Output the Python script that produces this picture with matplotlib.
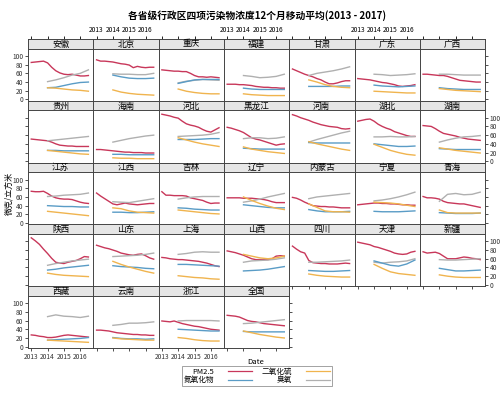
import matplotlib
matplotlib.use("Agg")
import matplotlib.pyplot as plt
from matplotlib.lines import Line2D

plt.rcParams['font.family'] = ['Noto Sans CJK SC', 'DejaVu Sans']

regions = ['安徽', '北京', '重庆', '福建', '甘肃', '广东', '广西',
           '贵州', '海南', '河北', '黑龙江', '河南', '湖北', '湖南',
           '江苏', '江西', '吉林', '辽宁', '内蒙古', '宁夏', '青海',
           '陕西', '山东', '上海', '山西', '四川', '天津', '新疆',
           '西藏', '云南', '浙江', '全国']

# PM2.5 from 2013, quarterly; other pollutants from 2014, half-yearly
pm_dates = [2013.0, 2013.25, 2013.5, 2013.75, 2014.0, 2014.25, 2014.5, 2014.75,
            2015.0, 2015.25, 2015.5, 2015.75, 2016.0, 2016.25, 2016.5]
other_dates = [2014.0, 2014.5, 2015.0, 2015.5, 2016.0, 2016.5]

pm25 = {
    '安徽': [85, 86, 87, 88, 84, 74, 66, 61, 58, 57, 58, 56, 54, 54, 55],
    '北京': [91, 88, 88, 87, 86, 84, 82, 81, 79, 73, 76, 74, 73, 74, 74],
    '重庆': [68, 67, 66, 65, 65, 64, 64, 60, 55, 52, 52, 51, 52, 51, 50],
    '福建': [35, 35, 35, 34, 34, 33, 32, 30, 29, 28, 28, 27, 27, 26, 26],
    '甘肃': [70, 66, 62, 58, 55, 52, 48, 45, 40, 36, 36, 38, 41, 43, 43],
    '广东': [48, 47, 46, 45, 43, 41, 39, 38, 36, 34, 31, 30, 31, 32, 34],
    '广西': [58, 58, 57, 56, 55, 55, 53, 50, 47, 44, 43, 42, 41, 40, 40],
    '贵州': [51, 50, 49, 48, 47, 44, 40, 37, 36, 35, 35, 34, 34, 34, 34],
    '海南': [27, 27, 26, 25, 24, 23, 22, 21, 21, 20, 20, 20, 19, 19, 19],
    '河北': [108, 106, 104, 101, 99, 92, 86, 83, 81, 78, 73, 69, 67, 72, 77],
    '黑龙江': [78, 76, 73, 70, 66, 60, 54, 51, 49, 46, 43, 40, 37, 39, 40],
    '河南': [107, 104, 100, 97, 94, 90, 87, 84, 82, 80, 79, 78, 75, 74, 75],
    '湖北': [92, 94, 96, 97, 92, 85, 80, 76, 73, 68, 65, 62, 59, 57, 57],
    '湖南': [82, 81, 80, 75, 69, 64, 62, 60, 58, 55, 53, 51, 50, 49, 48],
    '江苏': [73, 72, 72, 73, 68, 62, 58, 56, 55, 55, 54, 51, 48, 46, 45],
    '江西': [69, 62, 56, 50, 44, 42, 44, 46, 44, 43, 42, 43, 44, 45, 45],
    '吉林': [72, 64, 64, 63, 63, 63, 62, 58, 56, 54, 52, 48, 45, 46, 46],
    '辽宁': [58, 58, 58, 58, 57, 57, 57, 56, 55, 54, 52, 49, 47, 47, 47],
    '内蒙古': [59, 57, 53, 48, 44, 40, 39, 38, 38, 37, 37, 36, 35, 35, 35],
    '宁夏': [42, 43, 44, 45, 46, 46, 45, 45, 44, 44, 43, 42, 42, 41, 41],
    '青海': [61, 58, 58, 57, 55, 50, 47, 46, 45, 44, 44, 42, 40, 38, 36],
    '陕西': [108, 101, 93, 82, 72, 61, 52, 50, 49, 52, 54, 56, 60, 65, 64],
    '山东': [91, 88, 85, 83, 80, 77, 73, 71, 69, 68, 70, 71, 67, 62, 59],
    '上海': [63, 62, 60, 59, 58, 58, 57, 56, 55, 54, 52, 50, 47, 44, 42],
    '山西': [78, 76, 74, 71, 68, 64, 60, 58, 58, 58, 58, 60, 66, 67, 66],
    '四川': [89, 82, 76, 73, 56, 51, 50, 49, 49, 48, 48, 48, 49, 50, 49],
    '天津': [98, 96, 94, 92, 88, 86, 83, 80, 77, 73, 71, 70, 71, 75, 77],
    '新疆': [76, 73, 74, 75, 72, 66, 60, 60, 60, 62, 64, 63, 61, 60, 58],
    '西藏': [27, 26, 24, 23, 21, 21, 22, 24, 26, 27, 26, 25, 24, 23, 22],
    '云南': [38, 38, 37, 36, 34, 32, 31, 30, 29, 28, 28, 27, 27, 26, 26],
    '浙江': [59, 58, 57, 59, 56, 53, 51, 49, 47, 46, 44, 42, 40, 39, 38],
    '全国': [72, 71, 70, 68, 64, 60, 58, 57, 55, 53, 52, 51, 50, 49, 48],
}

no2 = {
    '安徽': [27, 28, 32, 36, 39, 40], '北京': [56, 52, 49, 48, 48, 49],
    '重庆': [37, 41, 45, 46, 46, 46], '福建': [26, 24, 23, 23, 23, 23],
    '甘肃': [30, 30, 30, 30, 31, 31], '广东': [33, 31, 30, 29, 30, 31],
    '广西': [27, 25, 24, 23, 23, 23], '贵州': [25, 25, 24, 24, 24, 24],
    '海南': [16, 16, 15, 15, 15, 15], '河北': [50, 50, 50, 51, 52, 52],
    '黑龙江': [30, 29, 28, 28, 28, 28], '河南': [43, 42, 42, 42, 42, 42],
    '湖北': [40, 38, 36, 34, 34, 35], '湖南': [29, 28, 27, 27, 27, 27],
    '江苏': [40, 39, 38, 38, 37, 37], '江西': [25, 25, 24, 24, 25, 26],
    '吉林': [35, 34, 32, 31, 30, 30], '辽宁': [42, 40, 38, 36, 35, 35],
    '内蒙古': [31, 28, 26, 26, 26, 27], '宁夏': [27, 26, 26, 26, 27, 28],
    '青海': [24, 23, 22, 22, 22, 23], '陕西': [34, 36, 39, 41, 43, 45],
    '山东': [44, 42, 41, 40, 38, 37], '上海': [47, 47, 46, 45, 44, 43],
    '山西': [32, 33, 34, 36, 39, 42], '四川': [33, 32, 31, 31, 32, 33],
    '天津': [55, 50, 45, 43, 48, 57], '新疆': [38, 35, 32, 32, 33, 34],
    '西藏': [15, 16, 17, 18, 19, 21], '云南': [21, 19, 18, 18, 17, 18],
    '浙江': [40, 39, 38, 37, 36, 36], '全国': [35, 34, 34, 34, 34, 34],
}

so2 = {
    '安徽': [27, 26, 24, 22, 21, 19], '北京': [22, 17, 14, 12, 11, 10],
    '重庆': [24, 19, 16, 14, 13, 13], '福建': [13, 11, 10, 9, 9, 9],
    '甘肃': [45, 40, 34, 30, 28, 27], '广东': [19, 18, 17, 16, 15, 15],
    '广西': [25, 23, 21, 20, 19, 18], '贵州': [25, 23, 21, 19, 17, 16],
    '海南': [8, 7, 7, 6, 6, 6], '河北': [54, 49, 44, 40, 37, 34],
    '黑龙江': [33, 28, 25, 22, 20, 18], '河南': [45, 40, 36, 32, 28, 25],
    '湖北': [39, 32, 25, 20, 16, 14], '湖南': [31, 28, 25, 23, 21, 19],
    '江苏': [27, 25, 23, 21, 19, 17], '江西': [35, 33, 28, 25, 24, 23],
    '吉林': [30, 28, 26, 24, 22, 21], '辽宁': [60, 52, 45, 39, 34, 31],
    '内蒙古': [44, 36, 28, 26, 26, 25], '宁夏': [48, 47, 46, 44, 41, 38],
    '青海': [30, 24, 23, 23, 23, 23], '陕西': [27, 24, 22, 21, 20, 19],
    '山东': [54, 47, 41, 36, 31, 27], '上海': [21, 19, 17, 16, 14, 13],
    '山西': [70, 66, 62, 60, 62, 66], '四川': [25, 22, 20, 19, 18, 18],
    '天津': [47, 38, 30, 26, 24, 22], '新疆': [23, 20, 18, 17, 17, 17],
    '西藏': [15, 14, 13, 12, 11, 10], '云南': [20, 18, 17, 16, 15, 15],
    '浙江': [21, 19, 16, 14, 13, 13], '全国': [36, 32, 28, 25, 22, 20],
}

o3 = {
    '安徽': [41, 45, 50, 56, 60, 68], '北京': [59, 58, 58, 57, 57, 60],
    '重庆': [38, 42, 44, 46, 45, 44], '福建': [55, 53, 50, 51, 53, 58],
    '甘肃': [55, 60, 63, 66, 70, 75], '广东': [58, 57, 55, 56, 57, 59],
    '广西': [58, 58, 57, 56, 56, 56], '贵州': [47, 49, 51, 53, 55, 57],
    '海南': [44, 48, 52, 55, 58, 60], '河北': [57, 58, 59, 60, 62, 66],
    '黑龙江': [52, 54, 54, 52, 53, 56], '河南': [44, 50, 55, 60, 65, 69],
    '湖北': [56, 56, 57, 56, 56, 57], '湖南': [44, 49, 53, 56, 57, 59],
    '江苏': [61, 62, 64, 65, 66, 69], '江西': [49, 48, 47, 50, 53, 56],
    '吉林': [55, 58, 60, 61, 61, 61], '辽宁': [48, 51, 55, 60, 64, 68],
    '内蒙古': [56, 60, 62, 64, 66, 68], '宁夏': [51, 53, 56, 60, 65, 71],
    '青海': [50, 66, 68, 65, 66, 71], '陕西': [45, 49, 52, 55, 57, 59],
    '山东': [65, 66, 67, 68, 70, 73], '上海': [70, 72, 75, 76, 75, 75],
    '山西': [52, 55, 56, 57, 59, 62], '四川': [52, 52, 53, 54, 55, 57],
    '天津': [52, 50, 52, 53, 55, 60], '新疆': [58, 57, 57, 58, 59, 60],
    '西藏': [69, 73, 70, 69, 67, 70], '云南': [49, 51, 54, 54, 55, 57],
    '浙江': [59, 60, 60, 60, 60, 59], '全国': [53, 54, 56, 58, 60, 62],
}

c_pm, c_no2, c_so2, c_o3 = '#c8375a', '#5a9cc6', '#f0b44e', '#b0b0b0'
edge = '#444444'

W, H = 500, 395
fig = plt.figure(figsize=(5, 3.95), dpi=100)

left0, colw = 28, 65.3
top0, rowh, striph = 39, 61.8, 9.5
ncol = 7
last_row = (len(regions) - 1) // ncol
n_last = len(regions) - last_row * ncol

for i, name in enumerate(regions):
    r, c = divmod(i, ncol)
    x0 = left0 + c * colw
    ytop = top0 + r * rowh

    st = fig.add_axes([x0 / W, 1 - (ytop + striph) / H, colw / W, striph / H])
    st.set_facecolor('#e6e6e6')
    st.set_xlim(2012.8, 2016.8)
    st.set_yticks([])
    st.text(0.5, 0.45, name, transform=st.transAxes, ha='center', va='center',
            fontsize=6.2)
    if r == 0:
        st.set_xticks([2013, 2014, 2015, 2016])
        st.tick_params(axis='x', bottom=False, labelbottom=False, top=True,
                       labeltop=(c % 2 == 1), direction='out', length=2.5,
                       width=0.6, labelsize=4.8, pad=1)
    else:
        st.set_xticks([])
    for s in st.spines.values():
        s.set_color(edge)
        s.set_linewidth(0.7)

    ax = fig.add_axes([x0 / W, 1 - (ytop + rowh) / H, colw / W, (rowh - striph) / H])
    ax.plot(pm_dates, pm25[name], color=c_pm, lw=1.0)
    ax.plot(other_dates, o3[name], color=c_o3, lw=1.0)
    ax.plot(other_dates, no2[name], color=c_no2, lw=1.0)
    ax.plot(other_dates, so2[name], color=c_so2, lw=1.0)
    ax.set_xlim(2012.8, 2016.8)
    ax.set_ylim(-3, 117)
    ax.set_xticks([2013, 2014, 2015, 2016])
    ax.set_yticks([0, 20, 40, 60, 80, 100])

    is_last_in_row = (c == ncol - 1) or (r == last_row and c == n_last - 1)
    bottom_edge = (r == last_row) or (r == last_row - 1 and c >= n_last)
    ax.tick_params(direction='out', length=2.5, width=0.6, labelsize=4.8,
                   pad=1, colors='#333333')
    ax.tick_params(axis='x', top=False, labeltop=False, bottom=bottom_edge,
                   labelbottom=(r == last_row and c % 2 == 0))
    ax.tick_params(axis='y', left=(c == 0), labelleft=(c == 0 and r % 2 == 0),
                   right=is_last_in_row,
                   labelright=(is_last_in_row and r % 2 == 1 and r != last_row))
    for s in ax.spines.values():
        s.set_color(edge)
        s.set_linewidth(0.7)

fig.text(257 / W, 1 - 16 / H, '各省级行政区四项污染物浓度12个月移动平均(2013 - 2017)',
         ha='center', va='center', fontsize=7, fontweight='bold')
fig.text(9 / W, 1 - 193 / H, '微克/立方米', rotation=90, ha='center',
         va='center', fontsize=5.8)
fig.text(256 / W, 1 - 362 / H, 'Date', ha='center', va='center', fontsize=5.5)

handles = [Line2D([], [], color=c_pm, lw=0.9), Line2D([], [], color=c_no2, lw=0.9),
           Line2D([], [], color=c_so2, lw=0.9), Line2D([], [], color=c_o3, lw=0.9)]
labels = ['PM2.5', '氮氧化物', '二氧化硫', '臭氧']
leg = fig.legend(handles, labels, ncol=2, markerfirst=False, fontsize=5.5,
                 loc='center', bbox_to_anchor=(257 / W, 1 - 376 / H),
                 frameon=True, fancybox=False, edgecolor='#777777',
                 borderpad=0.2, labelspacing=0.05, handlelength=3.2,
                 handletextpad=1.8, columnspacing=1.2)
leg.get_frame().set_linewidth(0.6)

fig.savefig('out.png', dpi=100)
